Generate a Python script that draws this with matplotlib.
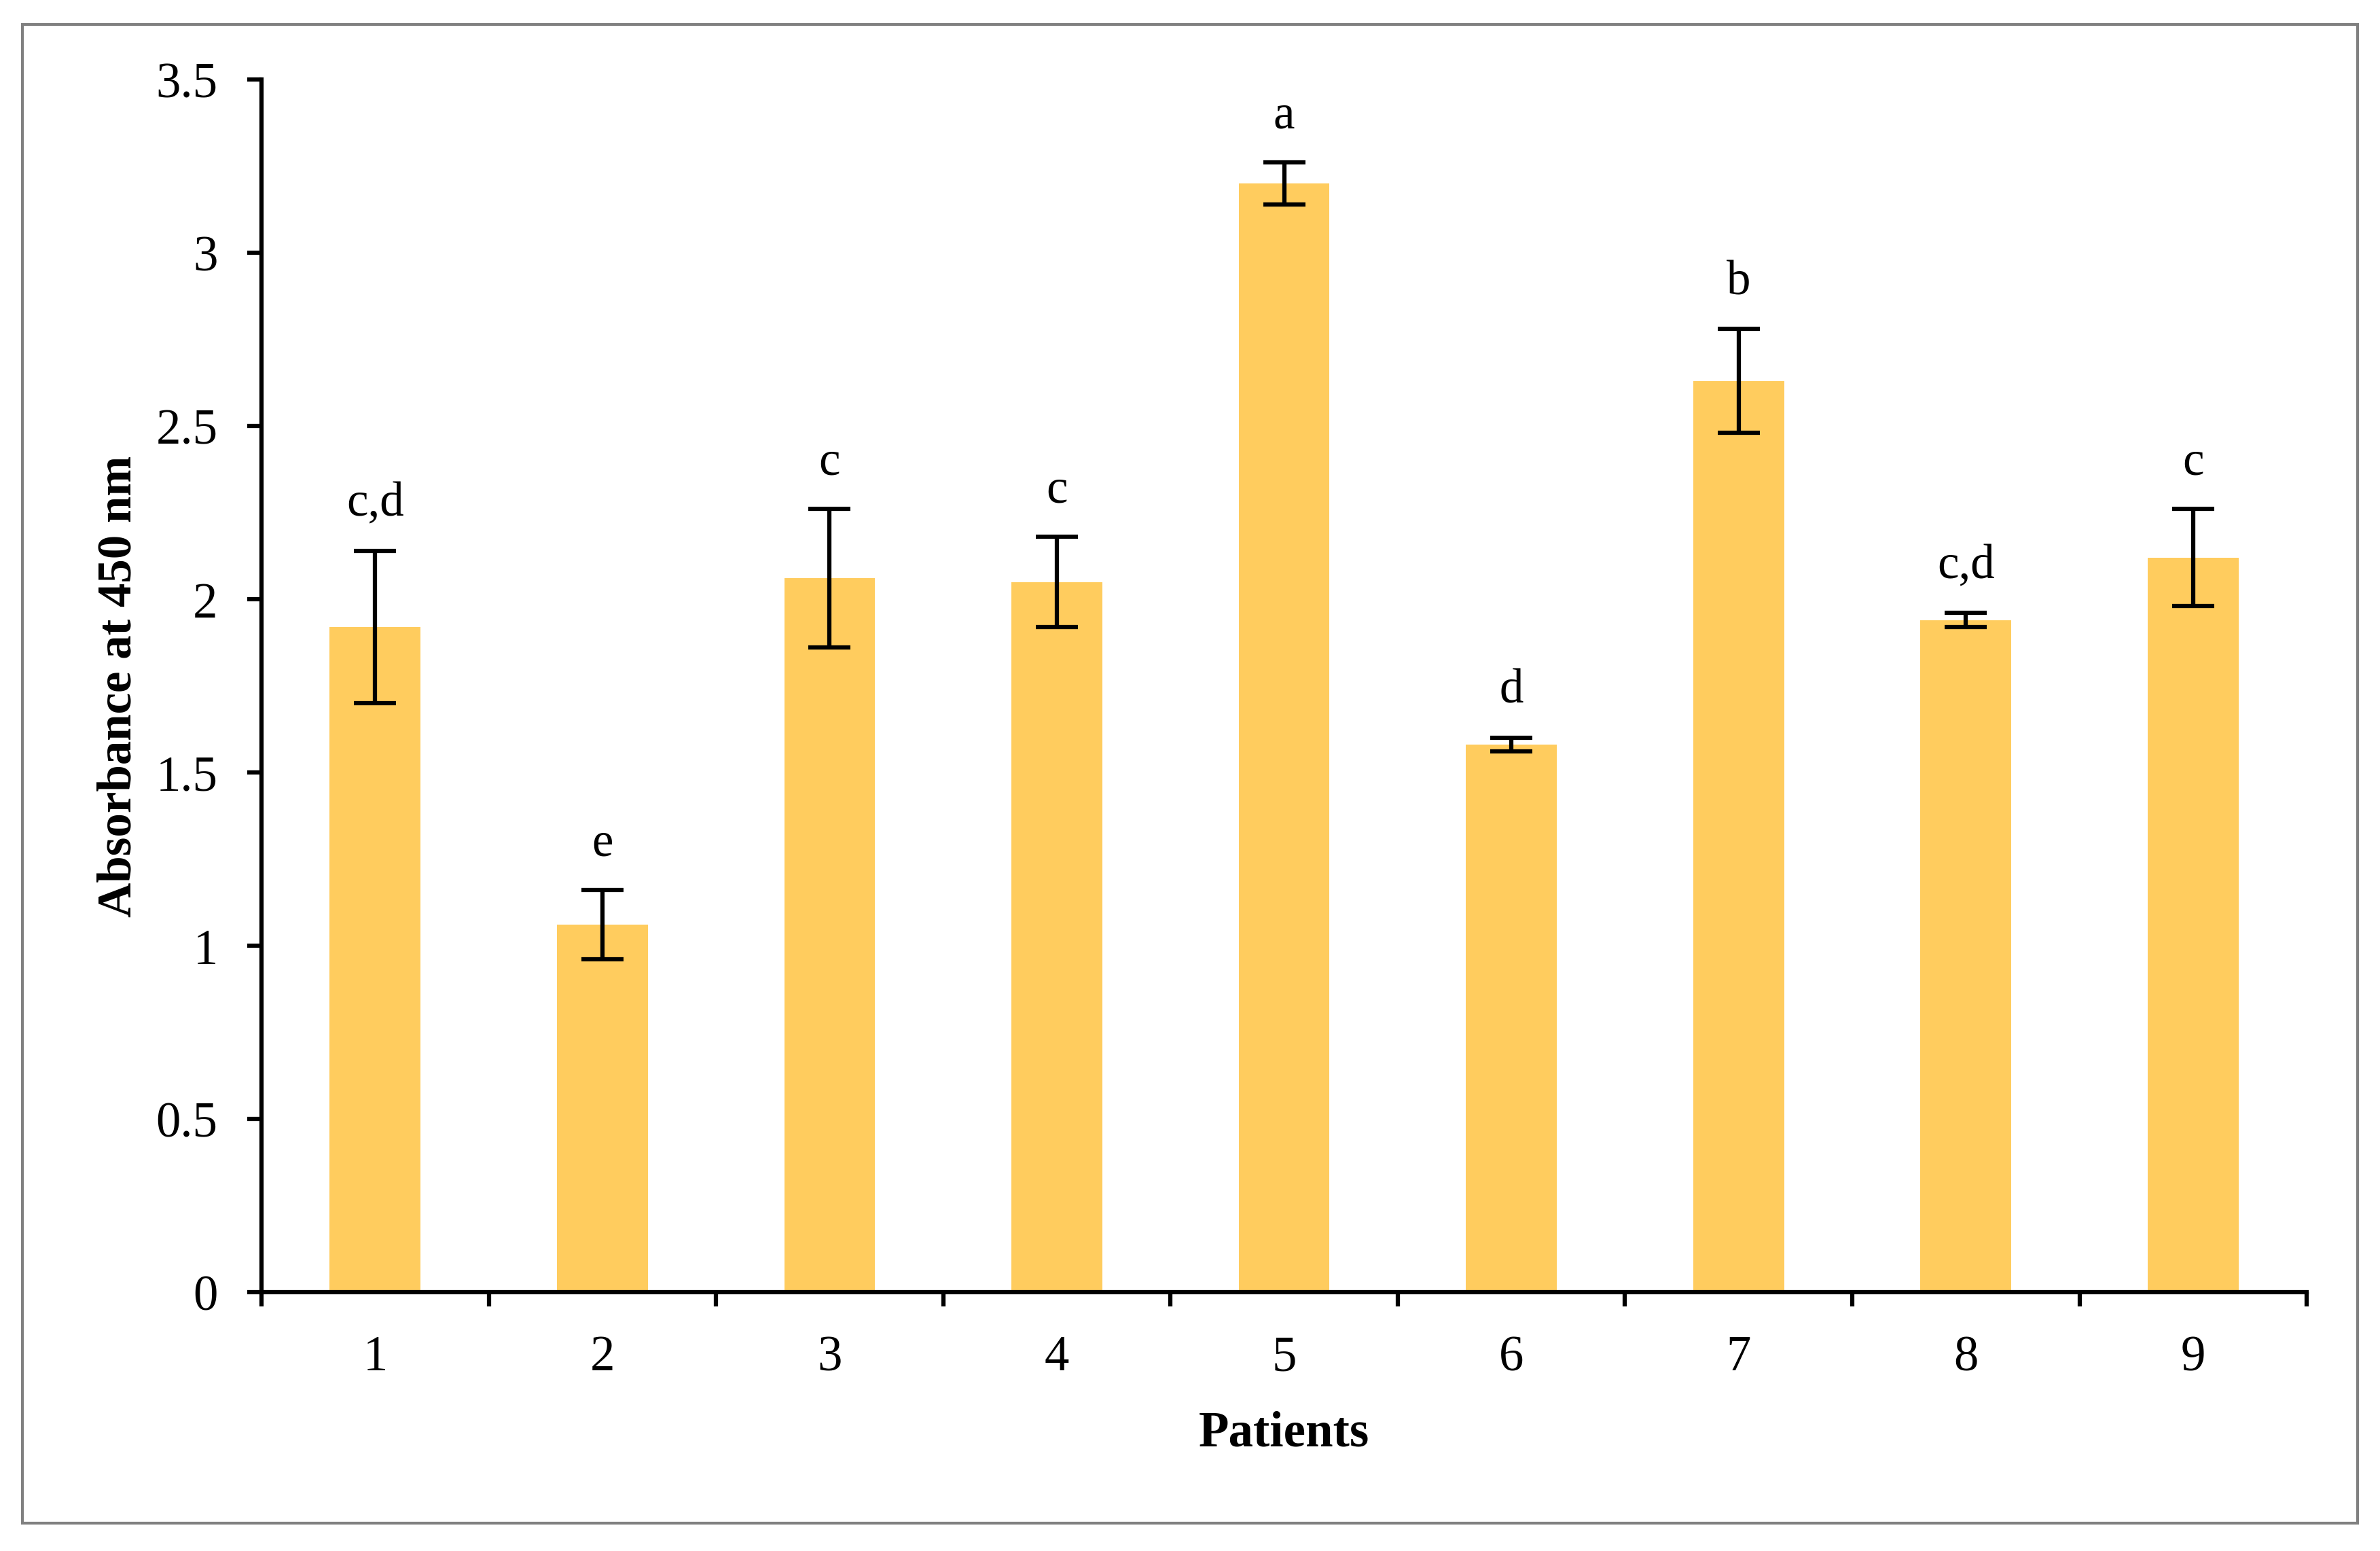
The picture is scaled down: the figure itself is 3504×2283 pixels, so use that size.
import numpy as np
import matplotlib.pyplot as plt
from matplotlib.patches import Rectangle

# values
patients = ['1', '2', '3', '4', '5', '6', '7', '8', '9']
absorbance = [1.92, 1.06, 2.06, 2.05, 3.20, 1.58, 2.63, 1.94, 2.12]
errors = [0.22, 0.10, 0.20, 0.13, 0.06, 0.02, 0.15, 0.02, 0.14]
letters = ['c,d', 'e', 'c', 'c', 'a', 'd', 'b', 'c,d', 'c']

yticks = [0, 0.5, 1, 1.5, 2, 2.5, 3, 3.5]
ytick_labels = ['0', '0.5', '1', '1.5', '2', '2.5', '3', '3.5']

plt.rcParams['font.family'] = ['Liberation Serif', 'DejaVu Serif']

fig = plt.figure(figsize=(11.68, 7.6133), dpi=300)
ax = fig.add_axes([0.1099, 0.1668, 0.9692 - 0.1099, 0.9483 - 0.1668])

x = np.arange(len(patients))
ax.bar(x, absorbance, width=0.4, color='#FFCC5E', zorder=2)
ax.errorbar(x, absorbance, yerr=errors, fmt='none', ecolor='black',
            elinewidth=1.5, capsize=7.4, capthick=1.5, zorder=3)

for xi, val, err, lab in zip(x, absorbance, errors, letters):
    ax.annotate(lab, xy=(xi, val + err), xytext=(0, 12.5),
                textcoords='offset points', ha='center', va='baseline',
                fontsize=17)

ax.set_xlim(-0.5, len(patients) - 0.5)
ax.set_ylim(0, 3.5)

# category ticks between bars, labels at bar centres
ax.set_xticks(np.arange(-0.5, len(patients)), labels=[])
ax.set_xticks(x, labels=patients, minor=True)
ax.tick_params(axis='x', which='major', direction='out', length=5, width=1.5)
ax.tick_params(axis='x', which='minor', length=0, pad=15, labelsize=17.5)

ax.set_yticks(yticks, labels=ytick_labels)
ax.tick_params(axis='y', direction='out', length=5, width=1.5, pad=10.5,
               labelsize=17.5)

for side in ['top', 'right']:
    ax.spines[side].set_visible(False)
for side in ['left', 'bottom']:
    ax.spines[side].set_linewidth(1.5)

ax.set_xlabel('Patients', fontsize=17.5, fontweight='bold')
ax.set_ylabel('Absorbance at 450 nm', fontsize=17, fontweight='bold')
ax.xaxis.set_label_coords(0.5, -0.097)
ax.xaxis.label.set_va('top')
ax.yaxis.set_label_coords(-0.059, 0.5)

# grey frame around the whole figure
fig.patches.append(Rectangle((33 / 3504, 1 - 2243 / 2284),
                             (3471 - 33) / 3504, (2243 - 37) / 2284,
                             transform=fig.transFigure, fill=False,
                             edgecolor='#808080', linewidth=1.0))

plt.savefig('out.png', dpi=300)
